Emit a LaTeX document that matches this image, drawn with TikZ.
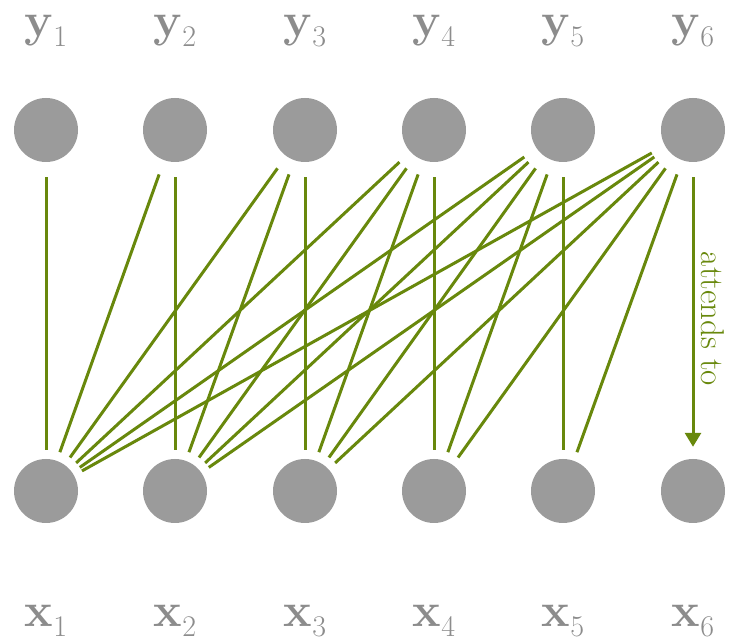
\documentclass[tikz,border=0pt]{standalone}
\usepackage{fontspec}
\usetikzlibrary{arrows.meta}
\definecolor{nodegray}{RGB}{155,155,155}
\definecolor{labgray}{RGB}{140,140,140}
\definecolor{attgreen}{RGB}{104,136,12}
\newcommand{\sublab}[2]{{\bfseries #1}\raisebox{-0.2em}{\fontsize{30}{34}\selectfont #2}}
\begin{document}
\begin{tikzpicture}[x=1pt,y=1pt,
  unit/.style={circle,fill=nodegray,minimum size=64pt,inner sep=0pt},
  lab/.style={text=labgray,anchor=base,inner sep=0pt,outer sep=0pt,font=\fontsize{48}{56}\selectfont},
  att/.style={draw=attgreen,line width=3pt,shorten <=15pt,shorten >=9pt},
  attarrow/.style={draw=attgreen,line width=3pt,shorten <=15pt,shorten >=12pt,
    -{Triangle[length=14pt,width=16pt]}}
]
\useasboundingbox (0,0) rectangle (729,640);
\foreach \i/\x in {1/46,2/175,3/305,4/434,5/563,6/693}{
  \node[unit] (y\i) at (\x,510) {};
  \node[unit] (x\i) at (\x,149) {};
  \node[lab] (ly\i) at (\x,603) {\sublab{y}{\i}};
  \node[lab] (lx\i) at (\x,13) {\sublab{x}{\i}};
}
\foreach \j in {1,...,5}{
  \foreach \i in {1,...,\j}{
    \draw[att] (y\j) -- (x\i);
  }
}
\foreach \i in {1,...,5}{
  \draw[att] (y6) -- (x\i);
}
\draw[attarrow] (y6) -- (x6);
\node[text=attgreen,rotate=-90,font=\fontsize{33}{38}\selectfont] (attlab) at (713,321) {attends to};
\end{tikzpicture}
\end{document}
